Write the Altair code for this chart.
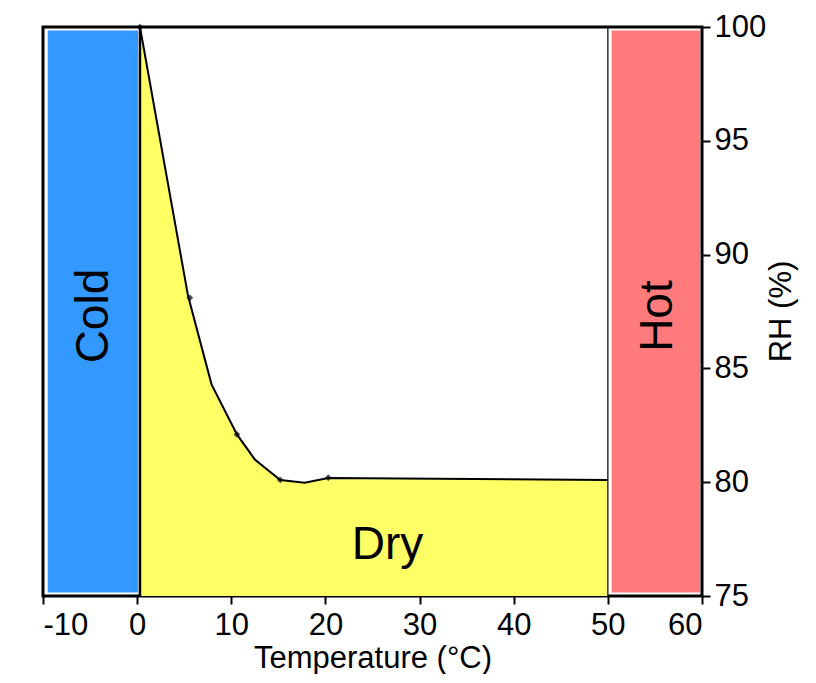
import altair as alt
import pandas as pd

# curve (Temperature °C, RH %)
curve_t = [0.3, 5.4, 7.9, 10.6, 12.5, 15.2, 17.8, 20.3, 50.0]
curve_rh = [100.0, 88.2, 84.3, 82.1, 81.0, 80.1, 79.98, 80.18, 80.1]
marker_t = [0.3, 5.6, 10.6, 15.2, 20.3]
marker_rh = [100.0, 88.1, 82.1, 80.1, 80.2]

zone_names = ["Cold", "Hot"]
zone_x0 = [-9.5, 50.4]
zone_x1 = [0.1, 59.8]
zone_y0 = [75.15, 75.15]
zone_y1 = [99.85, 99.85]
zone_colors = ["#3399FF", "#FF7B7B"]
zone_label_x = [-4.6, 55.3]
zone_label_y = [87.3, 87.3]

dry_label = ["Dry"]
dry_label_x = [26.6]
dry_label_y = [77.25]

x_ticks = [-10, 0, 10, 20, 30, 40, 50, 60]
y_ticks = [75, 80, 85, 90, 95, 100]

FONT = "Liberation Sans"

curve = pd.DataFrame({"t": curve_t, "rh": curve_rh})
markers = pd.DataFrame({"t": marker_t, "rh": marker_rh})
zones = pd.DataFrame({"name": zone_names, "x0": zone_x0, "x1": zone_x1,
                      "y0": zone_y0, "y1": zone_y1, "color": zone_colors,
                      "lx": zone_label_x, "ly": zone_label_y})
dry = pd.DataFrame({"name": dry_label, "lx": dry_label_x, "ly": dry_label_y})
edges = pd.DataFrame({"t": [curve_t[0]], "y0": [75], "y1": [100]})
edges2 = pd.DataFrame({"t": [curve_t[-1]], "y0": [75], "y1": [100]})

xs = alt.Scale(domain=[-10, 60], nice=False, zero=False)
ys = alt.Scale(domain=[75, 100], nice=False, zero=False)

xaxis = alt.Axis(values=x_ticks, title="Temperature (°C)", grid=False,
                 labelExpr="'' + datum.value", labelOverlap=False,
                 labelFontSize=31, titleFontSize=31, titleFontWeight="normal",
                 labelFont=FONT, titleFont=FONT, labelColor="black", titleColor="black",
                 tickColor="black", tickSize=8, tickWidth=2, domain=False,
                 labelPadding=6, titlePadding=3)
yaxis = alt.Axis(values=y_ticks, title="RH (%)", orient="right", grid=False,
                 labelOverlap=False,
                 labelFontSize=31, titleFontSize=31, titleFontWeight="normal",
                 labelFont=FONT, titleFont=FONT, labelColor="black", titleColor="black",
                 tickColor="black", tickSize=8, tickWidth=2, domain=False,
                 labelPadding=4, titleAngle=270, titleBaseline="middle",
                 titleAlign="center", titleX=79, titleY=284)

base_x = alt.X("t:Q", scale=xs, axis=xaxis)
base_y = alt.Y("rh:Q", scale=ys, axis=yaxis)

rects = alt.Chart(zones).mark_rect().encode(
    x=alt.X("x0:Q", scale=xs, axis=xaxis), x2="x1:Q",
    y=alt.Y("y0:Q", scale=ys, axis=yaxis), y2="y1:Q",
    color=alt.Color("color:N", scale=None, legend=None),
)

area = alt.Chart(curve).mark_area(color="#FFFF66", opacity=1).encode(
    x=base_x, y=base_y, y2=alt.datum(75)
)

line = alt.Chart(curve).mark_line(color="black", strokeWidth=2).encode(x=base_x, y=base_y)

left_edge = alt.Chart(edges).mark_rule(color="black", strokeWidth=2.5).encode(
    x=base_x, y=alt.Y("y0:Q", scale=ys, axis=yaxis), y2="y1:Q"
)
right_edge = alt.Chart(edges2).mark_rule(color="black", strokeWidth=1.2).encode(
    x=base_x, y=alt.Y("y0:Q", scale=ys, axis=yaxis), y2="y1:Q"
)

pts = alt.Chart(markers).mark_point(shape="diamond", filled=True, color="black", size=45).encode(
    x=base_x, y=base_y
)

zone_text = alt.Chart(zones).mark_text(angle=270, fontSize=46, font=FONT, color="black",
                                       baseline="middle").encode(
    x=alt.X("lx:Q", scale=xs, axis=xaxis), y=alt.Y("ly:Q", scale=ys, axis=yaxis), text="name:N"
)
dry_text = alt.Chart(dry).mark_text(fontSize=46, font=FONT, color="black",
                                    baseline="middle").encode(
    x=alt.X("lx:Q", scale=xs, axis=xaxis), y=alt.Y("ly:Q", scale=ys, axis=yaxis), text="name:N"
)

chart = alt.layer(rects, area, line, left_edge, right_edge, pts, zone_text, dry_text).properties(
    width=659, height=569,
    autosize=alt.AutoSizeParams(type="none"),
    padding={"left": 35, "top": 19, "right": 100, "bottom": 78},
).configure(background="white", view=alt.ViewConfig(stroke="black", strokeWidth=3))

chart.save("out.html", embed_options={"renderer": "svg", "actions": False})
